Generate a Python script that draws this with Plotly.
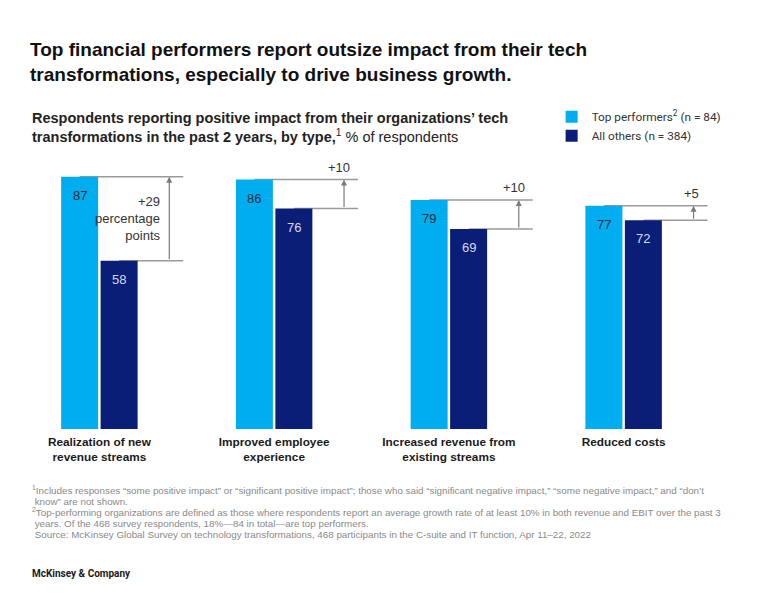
import plotly.graph_objects as go

categories = ["Realization of new<br>revenue streams", "Improved employee<br>experience",
              "Increased revenue from<br>existing streams", "Reduced costs"]
top_performers = [87, 86, 79, 77]
all_others = [58, 76, 69, 72]
series_names = ["Top performers<sup>2</sup> (n = 84)", "All others (n = 384)"]
footnotes = [
    "<sup>1</sup>Includes responses “some positive impact” or “significant positive impact”; those who said "
    "“significant negative impact,” “some negative impact,” and “don’t",
    " know” are not shown.",
    "<sup>2</sup>Top-performing organizations are defined as those where respondents report an average growth "
    "rate of at least 10% in both revenue and EBIT over the past 3",
    " years. Of the 468 survey respondents, 18%—84 in total—are top performers.",
    " Source: McKinsey Global Survey on technology transformations, "
    "468 participants in the C-suite and IT function, Apr 11–22, 2022",
]

LIGHT = "#00AEEF"
DARK = "#0A1E78"
GRAY = "#9a9a9a"
FONT = "Roboto, Liberation Sans, Arial, sans-serif"
FONT_REG = "Liberation Sans, Arial, sans-serif"

PLOT_TOP, PLOT_H = 139, 290


def py(px):
    """pixel row -> paper y"""
    return (PLOT_TOP + PLOT_H - px) / PLOT_H


idx = list(range(len(categories)))

fig = go.Figure()
fig.add_trace(go.Bar(x=idx, y=top_performers, name=series_names[0], marker_color=LIGHT,
                     marker_line_width=0, hoverinfo="skip"))
fig.add_trace(go.Bar(x=idx, y=all_others, name=series_names[1], marker_color=DARK,
                     marker_line_width=0, hoverinfo="skip"))

off = 0.113
annotations = []
shapes = []
for i, (t, o) in enumerate(zip(top_performers, all_others)):
    annotations.append(dict(x=i - off, y=t, xref="x", yref="y", text=str(t), showarrow=False,
                            yanchor="top", yshift=-9, font=dict(size=13, color="#1d2a3a", family=FONT_REG)))
    annotations.append(dict(x=i + off, y=o, xref="x", yref="y", text=str(o), showarrow=False,
                            yanchor="top", yshift=-9, font=dict(size=13, color="#d5d9ee", family=FONT_REG)))
    shapes.append(dict(type="line", xref="x", yref="y", x0=i - off, x1=i + 0.48, y0=t, y1=t,
                       line=dict(color=GRAY, width=1.5), layer="below"))
    shapes.append(dict(type="line", xref="x", yref="y", x0=i + off, x1=i + 0.48, y0=o, y1=o,
                       line=dict(color=GRAY, width=1.5), layer="below"))
    annotations.append(dict(x=i + 0.40, y=t, ax=i + 0.40, ay=o, xref="x", yref="y", axref="x", ayref="y",
                            text="", showarrow=True, arrowhead=2, arrowsize=1, arrowwidth=1.2,
                            arrowcolor="#7a7a7a", standoff=0, startstandoff=0))
    d = t - o
    if i == 0:
        annotations.append(dict(x=i + 0.365, y=(t + o) / 2, xref="x", yref="y",
                                text=f"+{d}<br>percentage<br>points", showarrow=False, align="right",
                                xanchor="right", yanchor="middle",
                                font=dict(size=13, color="#333333", family=FONT_REG)))
    else:
        annotations.append(dict(x=i + 0.445, y=t, xref="x", yref="y", text=f"+{d}", showarrow=False,
                                xanchor="right", yanchor="bottom", yshift=3,
                                font=dict(size=13, color="#333333", family=FONT_REG)))

annotations.append(dict(x=0.0258, y=py(108), xref="paper", yref="paper", xanchor="left", yanchor="top",
                        align="left", showarrow=False,
                        text="<b>Respondents reporting positive impact from their organizations’ tech<br>"
                             "transformations in the past 2 years, by type,</b><sup>1</sup> % of respondents",
                        font=dict(size=14.5, color="#222222", family=FONT_REG)))

for k, line in enumerate(footnotes):
    annotations.append(dict(x=0.0258, y=py(490 + 11 * k), xref="paper", yref="paper", xanchor="left",
                            yanchor="middle", align="left", showarrow=False, text=line,
                            font=dict(size=9.8, color="#8a8a8a", family=FONT_REG)))
annotations.append(dict(x=0.0258, y=py(573), xref="paper", yref="paper", xanchor="left", yanchor="middle",
                        align="left", showarrow=False, text="<b>McKinsey & Company</b>",
                        font=dict(size=10, color="#1a1a1a", family=FONT)))

fig.update_layout(
    width=768, height=615,
    margin=dict(l=12, r=57, t=PLOT_TOP, b=615 - PLOT_TOP - PLOT_H),
    paper_bgcolor="white", plot_bgcolor="white",
    barmode="group", bargap=0.548, bargroupgap=0.063,
    title=dict(text="<b>Top financial performers report outsize impact from their tech<br>"
                    "transformations, especially to drive business growth.</b>",
               x=30 / 768, xanchor="left", xref="container", y=1 - 56 / 615, yanchor="top", yref="container",
               font=dict(size=19, color="#111111", family=FONT_REG)),
    xaxis=dict(range=[-0.5, 3.5], tickmode="array", tickvals=idx, ticktext=[f"<b>{c}</b>" for c in categories],
               showline=False, showgrid=False, zeroline=False, ticks="",
               tickfont=dict(size=11.8, color="#1a1a1a", family=FONT_REG), ticklabelstandoff=4),
    yaxis=dict(range=[0, 100], visible=False),
    showlegend=True,
    legend=dict(x=0.772, y=1.127, xanchor="left", yanchor="top", orientation="v",
                font=dict(size=11.8, color="#333333", family=FONT), itemwidth=30,
                tracegroupgap=0, bgcolor="rgba(0,0,0,0)"),
    annotations=annotations, shapes=shapes,
)

fig.write_html("out.html", config={"displayModeBar": False},
               post_script="document.body.style.margin='0';")
